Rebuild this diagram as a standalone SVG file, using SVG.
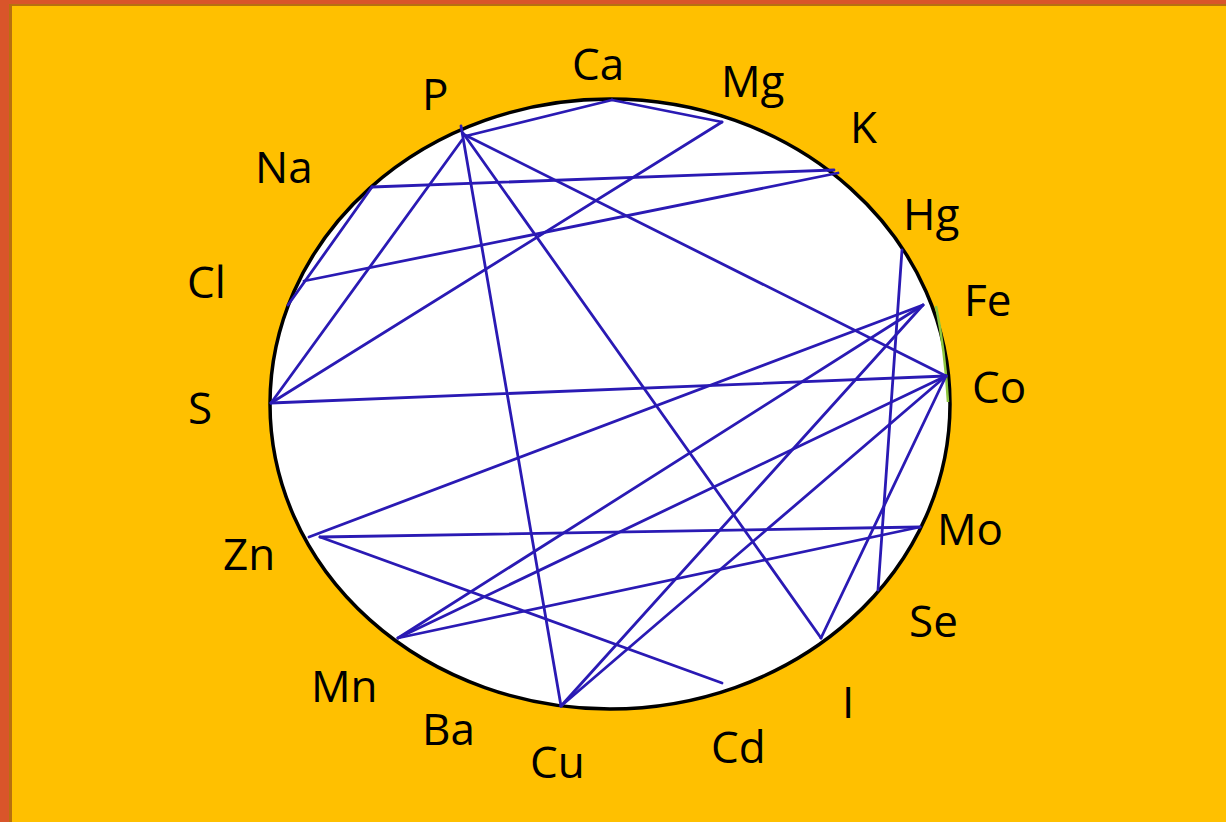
<svg xmlns="http://www.w3.org/2000/svg" width="1226" height="822" viewBox="0 0 1226 822">
  <style>
    .lbl { font-family: "Open Sans", "Liberation Sans", sans-serif; font-size: 44px; fill: #000; }
    .edge { stroke: #2A1AB4; stroke-width: 2.8; fill: none; stroke-linecap: round; }
  </style>
  <rect x="0" y="0" width="1226" height="822" fill="#FFC000"/>
  <rect x="0" y="0" width="1226" height="4" fill="#D9552A"/>
  <rect x="0" y="0" width="9" height="822" fill="#D9552A"/>
  <rect x="9" y="4" width="1217" height="2" fill="#B8700F"/>
  <rect x="9" y="4" width="3" height="818" fill="#B8700F"/>
  <g id="ring">
    <ellipse cx="610" cy="404" rx="340" ry="305" fill="#FFFFFF" stroke="#000000" stroke-width="3.5"/>
    <path d="M936,306 Q945,350 948,402" fill="none" stroke="#8DC63F" stroke-width="2.5"/>
  </g>
  <g id="connectors">
    <line class="edge" x1="462" y1="140" x2="271" y2="403"/>
    <line class="edge" x1="461" y1="126" x2="561" y2="706"/>
    <line class="edge" x1="463" y1="133" x2="821" y2="638"/>
    <line class="edge" x1="465" y1="135" x2="946" y2="376"/>
    <line class="edge" x1="466" y1="136" x2="612" y2="100"/>
    <line class="edge" x1="612" y1="100" x2="722" y2="122"/>
    <line class="edge" x1="722" y1="122" x2="271" y2="403"/>
    <line class="edge" x1="372" y1="187" x2="834" y2="170"/>
    <line class="edge" x1="372" y1="187" x2="288" y2="305"/>
    <line class="edge" x1="304" y1="281" x2="838" y2="173"/>
    <line class="edge" x1="271" y1="403" x2="946" y2="376"/>
    <line class="edge" x1="902" y1="250" x2="878" y2="590"/>
    <line class="edge" x1="923" y1="305" x2="309" y2="537"/>
    <line class="edge" x1="923" y1="305" x2="398" y2="638"/>
    <line class="edge" x1="923" y1="305" x2="561" y2="706"/>
    <line class="edge" x1="946" y1="376" x2="561" y2="706"/>
    <line class="edge" x1="946" y1="376" x2="398" y2="638"/>
    <line class="edge" x1="946" y1="376" x2="821" y2="638"/>
    <line class="edge" x1="920" y1="527" x2="320" y2="537"/>
    <line class="edge" x1="920" y1="527" x2="398" y2="638"/>
    <line class="edge" x1="320" y1="537" x2="722" y2="683"/>
  </g>
  <g id="node-Ca"><text class="lbl" x="572" y="80">Ca</text></g>
  <g id="node-Mg"><text class="lbl" x="721" y="97">Mg</text></g>
  <g id="node-P"><text class="lbl" x="422" y="110">P</text></g>
  <g id="node-K"><text class="lbl" x="850" y="143">K</text></g>
  <g id="node-Na"><text class="lbl" x="255" y="183">Na</text></g>
  <g id="node-Hg"><text class="lbl" x="903" y="230">Hg</text></g>
  <g id="node-Cl"><text class="lbl" x="187" y="298">Cl</text></g>
  <g id="node-Fe"><text class="lbl" x="964" y="316">Fe</text></g>
  <g id="node-S"><text class="lbl" x="188" y="424">S</text></g>
  <g id="node-Co"><text class="lbl" x="972" y="403">Co</text></g>
  <g id="node-Mo"><text class="lbl" x="937" y="545">Mo</text></g>
  <g id="node-Zn"><text class="lbl" x="223" y="570">Zn</text></g>
  <g id="node-Se"><text class="lbl" x="909" y="637">Se</text></g>
  <g id="node-Mn"><text class="lbl" x="311" y="702">Mn</text></g>
  <g id="node-I"><text class="lbl" x="842" y="718">I</text></g>
  <g id="node-Ba"><text class="lbl" x="422" y="745">Ba</text></g>
  <g id="node-Cd"><text class="lbl" x="711" y="763">Cd</text></g>
  <g id="node-Cu"><text class="lbl" x="530" y="778">Cu</text></g>
</svg>
